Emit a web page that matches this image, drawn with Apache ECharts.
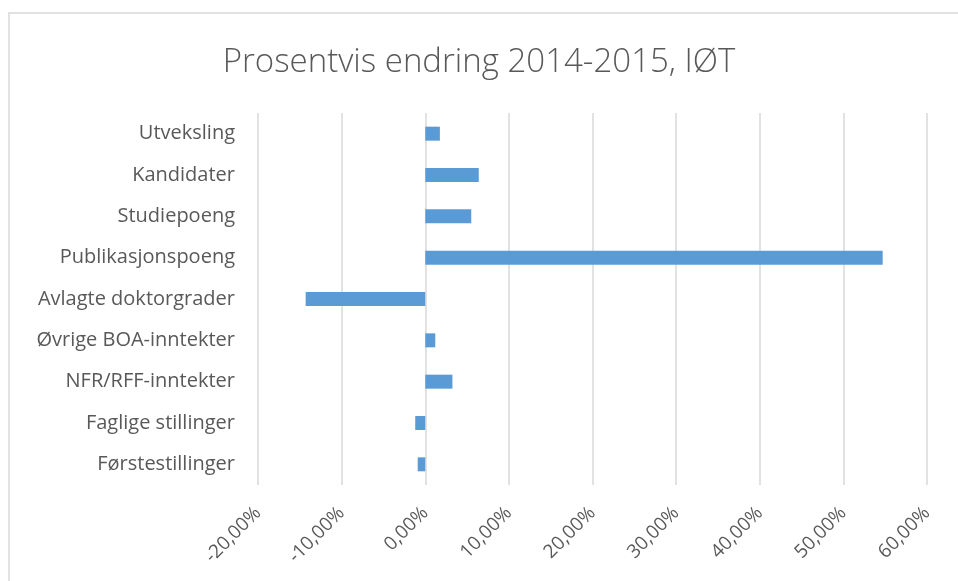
<!DOCTYPE html>
<html>
<head>
<meta charset="utf-8">
<script src="https://cdn.jsdelivr.net/npm/echarts@6/dist/echarts.min.js"></script>
<style>
  html, body { margin: 0; padding: 0; background: #fff; }
  #chart { width: 958px; height: 581px; }
</style>
</head>
<body>
<div id="chart"></div>
<script>
// categories top to bottom, as in the picture
var categories = [
    'Utveksling',
    'Kandidater',
    'Studiepoeng',
    'Publikasjonspoeng',
    'Avlagte doktorgrader',
    'Øvrige BOA-inntekter',
    'NFR/RFF-inntekter',
    'Faglige stillinger',
    'Førstestillinger'
];
// percent change 2014-2015
var endring = [1.75, 6.4, 5.5, 54.7, -14.3, 1.2, 3.25, -1.2, -0.9];
var tickMin = -20;
var tickMax = 60;
var tickStep = 10;

var grey = '#595959';
var font = '"Open Sans", "Noto Sans", sans-serif';

var dom = document.getElementById('chart');
var myChart = echarts.init(dom);
var option = {
    animation: false,
    backgroundColor: '#fff',
    title: {
        text: 'Prosentvis endring 2014-2015, IØT',
        left: 'center',
        top: 46,
        padding: [0, 0, 0, 30],
        textStyle: {
            color: grey,
            fontFamily: font,
            fontWeight: 300,
            fontSize: 33
        }
    },
    graphic: [{
        type: 'rect',
        z: -1,
        shape: { x: 9, y: 13, width: 1000, height: 1000 },
        style: { fill: 'none', stroke: '#d9d9d9', lineWidth: 1.5 }
    }],
    grid: {
        left: 258,
        right: 31,
        top: 113,
        bottom: 96
    },
    xAxis: {
        type: 'value',
        min: tickMin,
        max: tickMax,
        interval: tickStep,
        axisLine: { show: false },
        axisTick: { show: false },
        splitLine: { lineStyle: { color: '#d9d9d9', width: 1.5 } },
        axisLabel: {
            rotate: 45,
            margin: 25,
            color: grey,
            fontFamily: font,
            fontSize: 19,
            formatter: function (v) {
                return v.toFixed(2).replace('.', ',') + '%';
            }
        }
    },
    yAxis: {
        type: 'category',
        inverse: true,
        data: categories,
        axisLine: { show: false },
        axisTick: { show: false },
        axisLabel: {
            margin: 23,
            color: grey,
            fontFamily: font,
            fontSize: 20
        }
    },
    series: [{
        type: 'bar',
        data: endring,
        barWidth: 14,
        itemStyle: { color: '#5b9bd5' }
    }]
};
myChart.setOption(option, true);
</script>
</body>
</html>
